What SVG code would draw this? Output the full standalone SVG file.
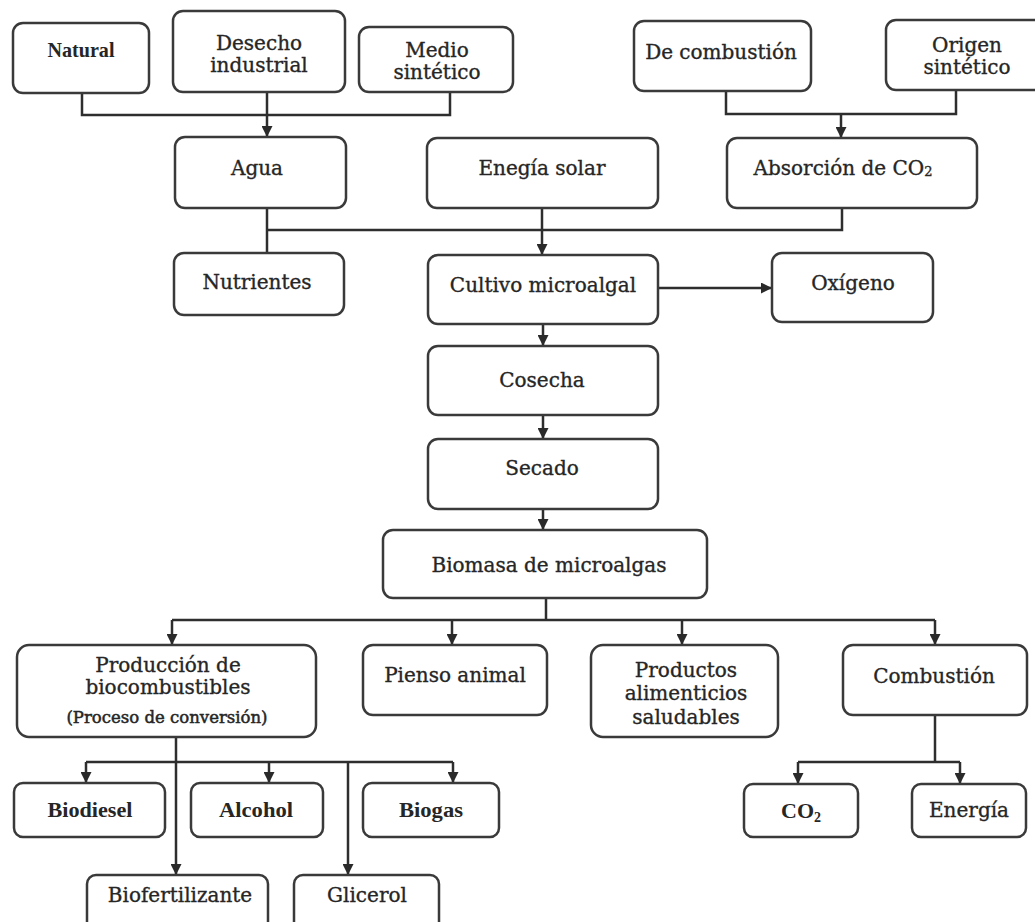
<svg xmlns="http://www.w3.org/2000/svg" width="1035" height="922" viewBox="0 0 1035 922">
<defs>
<marker id="ah" viewBox="0 0 10 10" refX="10" refY="5" markerWidth="11" markerHeight="11" markerUnits="userSpaceOnUse" orient="auto">
<path d="M0,0 L10,5 L0,10 z" fill="#2a2a2a"/>
</marker>
<style>
.n rect{fill:#fff;stroke:#3a3a3a;stroke-width:2.5}
.n text{font-family:"DejaVu Serif","Liberation Serif",serif;font-size:20px;fill:#262626;stroke:#262626;stroke-width:0.35;text-anchor:middle}
.n text.b{font-family:"Liberation Serif",serif;font-weight:bold;font-size:22px;stroke-width:0}
.n text.s{font-size:16.5px;stroke-width:0.5}
#conn path{fill:none;stroke:#2e2e2e;stroke-width:2.5}
#conn path.a{marker-end:url(#ah)}
</style>
</defs>
<rect width="1035" height="922" fill="#fff"/>
<g id="conn">
<path d="M82,93 V115 H450 V92"/>
<path class="a" d="M267,92 V137"/>
<path d="M726,91 V114 H956 V90"/>
<path class="a" d="M841,114 V138"/>
<path d="M267,208 V253"/>
<path d="M267,230 H842 V208"/>
<path class="a" d="M542,208 V255"/>
<path class="a" d="M658,288 H772"/>
<path class="a" d="M543,323 V346"/>
<path class="a" d="M543,415 V439"/>
<path class="a" d="M543,509 V530"/>
<path d="M546,598 V620"/>
<path d="M172,620 H935"/>
<path class="a" d="M172,620 V645"/>
<path class="a" d="M452,620 V645"/>
<path class="a" d="M682,620 V645"/>
<path class="a" d="M935,620 V645"/>
<path class="a" d="M176,737 V875"/>
<path d="M86,762 H453"/>
<path class="a" d="M86,762 V783"/>
<path class="a" d="M269,762 V783"/>
<path class="a" d="M453,762 V783"/>
<path class="a" d="M348,762 V875"/>
<path d="M935,715 V762"/>
<path d="M798,762 H960"/>
<path class="a" d="M798,762 V784"/>
<path class="a" d="M960,762 V784"/>
</g>
<g id="natural" class="n"><rect x="13" y="23" width="136" height="70" rx="10"/><text class="b" x="81" y="57" textLength="67" lengthAdjust="spacingAndGlyphs">Natural</text></g>
<g id="desecho" class="n"><rect x="173" y="11" width="172" height="81" rx="10"/><text x="259" y="50">Desecho</text><text x="259" y="72">industrial</text></g>
<g id="medio" class="n"><rect x="359" y="27" width="154" height="65" rx="10"/><text x="437" y="57">Medio</text><text x="437" y="79">sintético</text></g>
<g id="decomb" class="n"><rect x="634" y="21" width="177" height="70" rx="10"/><text x="721" y="59">De combustión</text></g>
<g id="origen" class="n"><rect x="886" y="20" width="165" height="70" rx="10"/><text x="967" y="52">Origen</text><text x="967" y="74">sintético</text></g>
<g id="agua" class="n"><rect x="175" y="137" width="171" height="71" rx="10"/><text x="257" y="175">Agua</text></g>
<g id="solar" class="n"><rect x="427" y="138" width="231" height="70" rx="10"/><text x="542" y="175">Enegía solar</text></g>
<g id="absorcion" class="n"><rect x="727" y="138" width="250" height="70" rx="10"/><text x="843" y="175">Absorción de CO<tspan font-size="13" dy="1">2</tspan></text></g>
<g id="nutrientes" class="n"><rect x="174" y="253" width="170" height="62" rx="10"/><text x="257" y="289">Nutrientes</text></g>
<g id="cultivo" class="n"><rect x="428" y="255" width="230" height="69" rx="10"/><text x="543" y="292">Cultivo microalgal</text></g>
<g id="oxigeno" class="n"><rect x="772" y="253" width="161" height="69" rx="10"/><text x="853" y="290">Oxígeno</text></g>
<g id="cosecha" class="n"><rect x="428" y="346" width="230" height="69" rx="10"/><text x="542" y="387">Cosecha</text></g>
<g id="secado" class="n"><rect x="428" y="439" width="230" height="70" rx="10"/><text x="542" y="475">Secado</text></g>
<g id="biomasa" class="n"><rect x="383" y="530" width="324" height="68" rx="10"/><text x="549" y="572">Biomasa de microalgas</text></g>
<g id="produccion" class="n"><rect x="17" y="645" width="299" height="92" rx="12"/><text x="168" y="672">Producción de</text><text x="168" y="694">biocombustibles</text><text class="s" x="167" y="723">(Proceso de conversión)</text></g>
<g id="pienso" class="n"><rect x="363" y="645" width="184" height="70" rx="10"/><text x="455" y="682">Pienso animal</text></g>
<g id="productos" class="n"><rect x="591" y="645" width="187" height="92" rx="12"/><text x="686" y="677">Productos</text><text x="686" y="700">alimenticios</text><text x="686" y="724">saludables</text></g>
<g id="combustion" class="n"><rect x="843" y="645" width="184" height="70" rx="10"/><text x="934" y="683">Combustión</text></g>
<g id="biodiesel" class="n"><rect x="14" y="783" width="151" height="54" rx="9"/><text class="b" x="90" y="817" textLength="85" lengthAdjust="spacingAndGlyphs">Biodiesel</text></g>
<g id="alcohol" class="n"><rect x="191" y="783" width="132" height="54" rx="9"/><text class="b" x="256" y="817" textLength="74" lengthAdjust="spacingAndGlyphs">Alcohol</text></g>
<g id="biogas" class="n"><rect x="363" y="783" width="136" height="54" rx="9"/><text class="b" x="431" y="817" textLength="64" lengthAdjust="spacingAndGlyphs">Biogas</text></g>
<g id="co2" class="n"><rect x="744" y="784" width="114" height="53" rx="9"/><text class="b" x="801" y="818">CO<tspan font-size="14" dy="4">2</tspan></text></g>
<g id="energia" class="n"><rect x="912" y="784" width="114" height="53" rx="9"/><text x="969" y="817">Energía</text></g>
<g id="biofert" class="n"><rect x="87" y="875" width="181" height="60" rx="9"/><text x="180" y="902">Biofertilizante</text></g>
<g id="glicerol" class="n"><rect x="294" y="875" width="145" height="60" rx="9"/><text x="367" y="902">Glicerol</text></g>
</svg>
